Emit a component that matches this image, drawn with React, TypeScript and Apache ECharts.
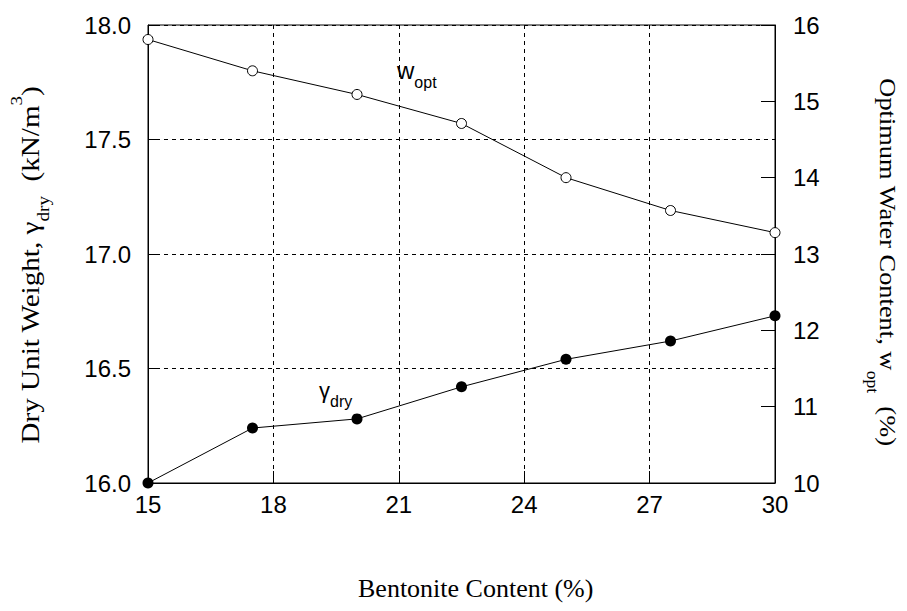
import React, { useEffect, useRef } from "react";
import * as echarts from "echarts";

const bentonite = [15, 17.5, 20, 22.5, 25, 27.5, 30];
const dryUnitWeight = [16.0, 16.24, 16.28, 16.42, 16.54, 16.62, 16.73];
const optWater = [15.81, 15.4, 15.09, 14.71, 14.0, 13.57, 13.28];

const xTicks = { min: 15, max: 30, interval: 3 };
const leftTicks = { min: 16, max: 18, interval: 0.5 };
const rightTicks = { min: 10, max: 16, interval: 1 };

export default function App() {
  const ref = useRef<HTMLDivElement>(null);
  useEffect(() => {
    if (!ref.current) return;
    const chart = echarts.init(ref.current, null, { renderer: "svg" });
    const sans = "Liberation Sans, Arial, sans-serif";
    const serif = "Liberation Serif, Times New Roman, serif";
    const tickFont = 24;
    chart.setOption({
      animation: false,
      backgroundColor: "#fff",
      grid: {
        left: 148,
        right: 132,
        top: 25,
        bottom: 128,
        show: true,
        borderColor: "#000",
        borderWidth: 1,
        backgroundColor: "transparent",
      },
      xAxis: {
        type: "value",
        min: xTicks.min,
        max: xTicks.max,
        interval: xTicks.interval,
        axisLine: { show: true, lineStyle: { color: "#000", width: 1 } },
        axisTick: { show: true, inside: true, length: 12, lineStyle: { color: "#000" } },
        axisLabel: { color: "#000", fontFamily: sans, fontSize: tickFont, margin: 9 },
        splitLine: { show: true, lineStyle: { color: "#000", type: [4, 4], width: 1 } },
      },
      yAxis: [
        {
          type: "value",
          position: "left",
          min: leftTicks.min,
          max: leftTicks.max,
          interval: leftTicks.interval,
          axisLine: { show: true, lineStyle: { color: "#000", width: 1 } },
          axisTick: { show: true, inside: true, length: 12, lineStyle: { color: "#000" } },
          axisLabel: {
            color: "#000",
            fontFamily: sans,
            fontSize: tickFont,
            margin: 17,
            formatter: (v: number) => v.toFixed(1),
          },
          splitLine: { show: true, lineStyle: { color: "#000", type: [4, 4], width: 1 } },
        },
        {
          type: "value",
          position: "right",
          min: rightTicks.min,
          max: rightTicks.max,
          interval: rightTicks.interval,
          axisLine: { show: true, lineStyle: { color: "#000", width: 1 } },
          axisTick: { show: true, inside: true, length: 14, lineStyle: { color: "#000" } },
          axisLabel: { color: "#000", fontFamily: sans, fontSize: tickFont, margin: 18 },
          splitLine: { show: false },
        },
      ],
      series: [
        {
          type: "line",
          yAxisIndex: 1,
          data: bentonite.map((x, i) => [x, optWater[i]]),
          symbol: "circle",
          symbolSize: 10,
          lineStyle: { color: "#000", width: 1 },
          itemStyle: { color: "#fff", borderColor: "#000", borderWidth: 1 },
          z: 3,
        },
        {
          type: "line",
          yAxisIndex: 0,
          data: bentonite.map((x, i) => [x, dryUnitWeight[i]]),
          symbol: "circle",
          symbolSize: 11,
          lineStyle: { color: "#000", width: 1 },
          itemStyle: { color: "#000", borderColor: "#000", borderWidth: 0 },
          z: 3,
        },
      ],
      graphic: [
        {
          type: "text",
          x: 30,
          y: 265,
          rotation: Math.PI / 2,
          scaleX: 1.12,
          style: {
            text: "Dry Unit Weight, γ{sub|dry}  (kN/m{sup|3})",
            fontFamily: serif,
            fontSize: 26,
            fill: "#000",
            align: "center",
            verticalAlign: "middle",
            rich: {
              sub: { fontFamily: serif, fontSize: 17, verticalAlign: "bottom", lineHeight: 44, padding: [14, 0, 0, 0] },
              sup: { fontFamily: serif, fontSize: 17, verticalAlign: "top", lineHeight: 44, padding: [0, 0, 14, 0] },
            },
          },
        },
        {
          type: "text",
          x: 888,
          y: 262,
          rotation: -Math.PI / 2,
          scaleX: 1.1,
          style: {
            text: "Optimum Water Content, w{sub|opt}  (%)",
            fontFamily: serif,
            fontSize: 24,
            fill: "#000",
            align: "center",
            verticalAlign: "middle",
            rich: {
              sub: { fontFamily: serif, fontSize: 16, verticalAlign: "bottom", lineHeight: 48, padding: [20, 0, 0, 0] },
            },
          },
        },
        {
          type: "text",
          x: 358,
          y: 575,
          style: {
            text: "Bentonite Content (%)",
            fontFamily: serif,
            fontSize: 26,
            fill: "#000",
            align: "left",
            verticalAlign: "top",
          },
        },
        {
          type: "text",
          x: 397,
          y: 50,
          style: {
            text: "w{sub|opt}",
            fontFamily: sans,
            fontSize: 24,
            fill: "#000",
            rich: {
              sub: { fontFamily: sans, fontSize: 16, verticalAlign: "bottom", lineHeight: 40, padding: [24, 0, 0, 0] },
            },
          },
        },
        {
          type: "text",
          x: 319,
          y: 371,
          style: {
            text: "γ{sub|dry}",
            fontFamily: sans,
            fontSize: 22,
            fill: "#000",
            rich: {
              sub: { fontFamily: sans, fontSize: 16, verticalAlign: "bottom", lineHeight: 38, padding: [16, 0, 0, 0] },
            },
          },
        },
      ],
    });
    return () => chart.dispose();
  }, []);
  return <div ref={ref} style={{ width: 907, height: 611, position: "absolute", left: 0, top: 0 }} />;
}
